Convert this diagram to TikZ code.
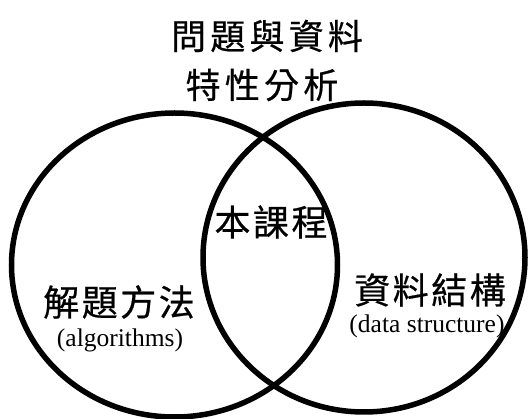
\documentclass[tikz,border=0pt]{standalone}
\usepackage{fontspec}
\setmainfont{Liberation Serif}
\newfontfamily\cjktitle[LetterSpace=12,FakeBold=0.6]{Noto Sans CJK TC}
\newfontfamily\cjkbody[LetterSpace=7,FakeBold=0.6]{Noto Sans CJK TC}
\usetikzlibrary{shapes.geometric}
\begin{document}
\begin{tikzpicture}[x=1pt,y=-1pt,
  set/.style={draw, ellipse, line width=5.5pt, inner sep=0pt, outer sep=0pt},
  titletext/.style={inner sep=0pt, font=\cjktitle\fontsize{35}{38}\selectfont},
  cjklabel/.style={inner sep=0pt, font=\cjkbody\fontsize{36}{40}\selectfont},
  entext/.style={inner sep=0pt, font=\fontsize{25.5}{27}\selectfont}]
\useasboundingbox (0,0) rectangle (528,419);
\node[set, minimum width=326pt, minimum height=304pt] (L) at (174.5,265) {};
\node[set, minimum width=322pt, minimum height=309pt] (R) at (364,257.5) {};
\node[titletext] (t1) at (267,36) {問題與資料};
\node[titletext] (t2) at (262,85) {特性分析};
\node[cjklabel] (mid) at (271,222) {本課程};
\node[cjklabel] (alg) at (119,302) {解題方法};
\node[cjklabel] (ds) at (430,290) {資料結構};
\node[entext] (algen) at (120,340) {(algorithms)};
\node[entext] (dsen) at (427,326) {(data structure)};
\end{tikzpicture}
\end{document}
